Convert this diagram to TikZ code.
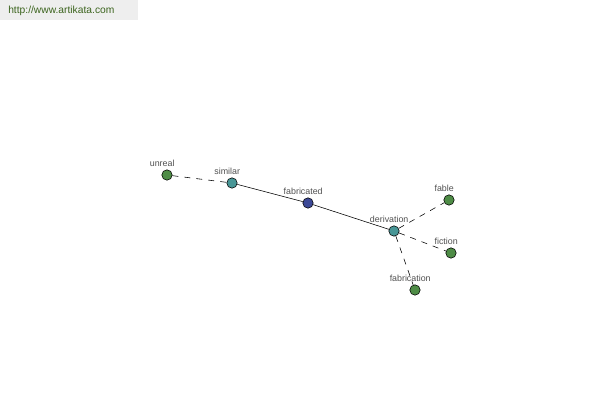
\documentclass[tikz,border=0pt]{standalone}
\usepackage{fontspec}
\setmainfont{Liberation Sans}
\definecolor{leafgreen}{RGB}{78,140,70}
\definecolor{tealnode}{RGB}{72,150,150}
\definecolor{navynode}{RGB}{60,72,150}
\definecolor{headbg}{RGB}{238,238,238}
\definecolor{headtext}{RGB}{60,100,30}
\definecolor{labtext}{RGB}{80,80,80}
\tikzset{
  word/.style={draw, circle, inner sep=0pt, minimum size=0.26cm, line width=0.4pt},
  wordlab/.style={text=labtext, font=\fontsize{6.3}{7}\selectfont, xshift=-0.12cm, label distance=-0.06cm},
  link/.style={line width=0.4pt},
  weak/.style={line width=0.4pt, dash pattern=on 0.15cm off 0.15cm}
}
\begin{document}
\begin{tikzpicture}[x=0.025cm, y=-0.025cm]
\useasboundingbox (0,0) rectangle (600,400);
\fill[headbg] (0,0) rectangle (138,20);
\node[text=headtext, font=\fontsize{7.3}{8}\selectfont, anchor=west, inner sep=0pt] (site) at (8,11) {http://www.artikata.com};
% word nodes
\node[word, fill=leafgreen, label={[wordlab]above:unreal}] (unreal) at (167,175) {};
\node[word, fill=tealnode, label={[wordlab]above:similar}] (similar) at (232,183) {};
\node[word, fill=navynode, label={[wordlab]above:fabricated}] (fabricated) at (308,203) {};
\node[word, fill=tealnode, label={[wordlab]above:derivation}] (derivation) at (394,231) {};
\node[word, fill=leafgreen, label={[wordlab]above:fable}] (fable) at (449,200) {};
\node[word, fill=leafgreen, label={[wordlab]above:fiction}] (fiction) at (451,253) {};
\node[word, fill=leafgreen, label={[wordlab]above:fabrication}] (fabrication) at (415,290) {};
% links
\draw[link] (similar) -- (fabricated);
\draw[link] (fabricated) -- (derivation);
\draw[weak] (unreal) -- (similar);
\draw[weak] (derivation) -- (fable);
\draw[weak] (derivation) -- (fiction);
\draw[weak] (derivation) -- (fabrication);
\end{tikzpicture}
\end{document}
